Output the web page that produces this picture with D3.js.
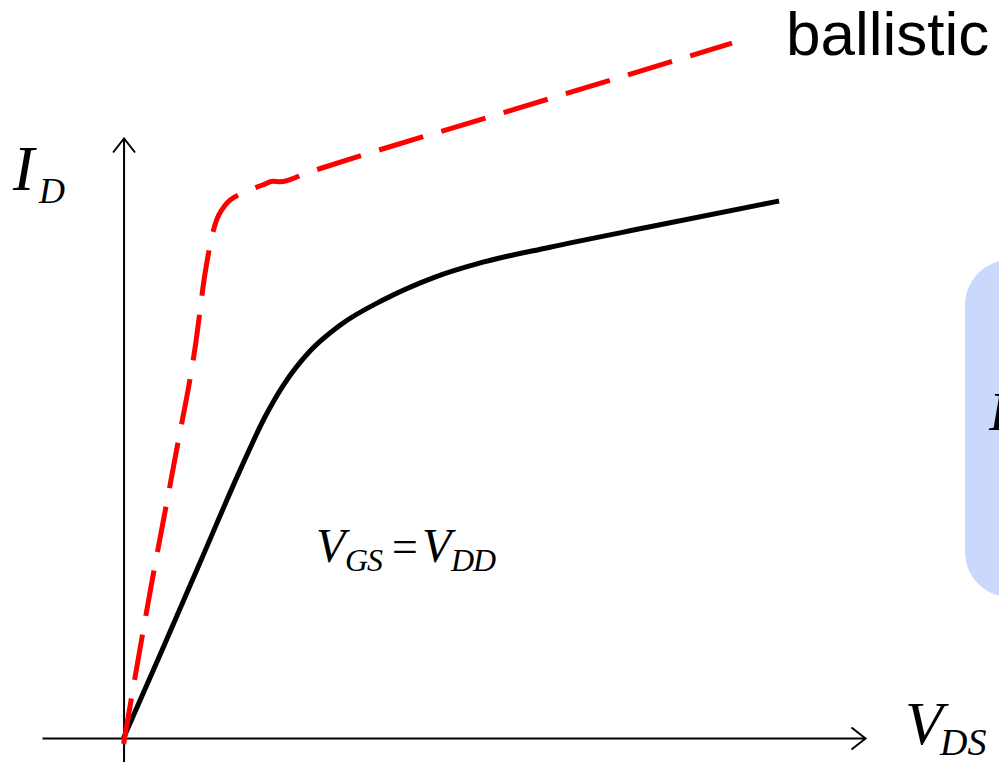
<!DOCTYPE html>
<html>
<head>
<meta charset="utf-8">
<script src="https://cdn.jsdelivr.net/npm/d3@7"></script>
<style>
  html, body { margin: 0; padding: 0; background: #fff; overflow: hidden; }
  svg { display: block; }
  .math { font-family: "Liberation Serif", "Times New Roman", serif; font-style: italic; fill: #000; }
</style>
</head>
<body>
<svg id="chart" width="999" height="762"></svg>
<script>
// Output characteristic, normalised drain voltage (V_DS) and drain current (I_D)
const ballisticVds = [0, 0.036, 0.070, 0.097, 0.110, 0.121, 0.137, 0.164, 0.188, 0.2016, 0.2111, 0.2475, 0.528, 0.8206];
const ballisticId  = [-0.010, 0.245, 0.470, 0.655, 0.775, 0.845, 0.888, 0.910, 0.922, 0.928, 0.927, 0.942, 1.048, 1.158];

const deviceVds = [0, 0.050, 0.103, 0.157, 0.1907, 0.2150, 0.2515, 0.2919, 0.3499, 0.4174, 0.4848, 0.5752, 0.7101, 0.8841];
const deviceId  = [0, 0.141, 0.292, 0.446, 0.535, 0.587, 0.645, 0.688, 0.730, 0.767, 0.793, 0.818, 0.852, 0.895];

const xDomain = [-0.11, 1.0];
const yDomain = [-0.04, 1.0];

const svg = d3.select("#chart");

const x = d3.scaleLinear().domain(xDomain).range([42, 865]);
const y = d3.scaleLinear().domain(yDomain).range([762, 138]);

// open chevron arrowheads for the axes
const defs = svg.append("defs");
defs.append("marker")
  .attr("id", "arrow")
  .attr("markerUnits", "userSpaceOnUse")
  .attr("viewBox", "-16 -12 18 24")
  .attr("refX", 0).attr("refY", 0)
  .attr("markerWidth", 18).attr("markerHeight", 24)
  .attr("orient", "auto")
  .append("path")
  .attr("d", "M-14,-11L0,0L-14,11")
  .attr("fill", "none")
  .attr("stroke", "#000")
  .attr("stroke-width", 2);

// side panel
svg.append("rect")
  .attr("x", 965).attr("y", 260)
  .attr("width", 120).attr("height", 337)
  .attr("rx", 45).attr("ry", 45)
  .attr("fill", "#cad8fb");
svg.append("text")
  .attr("class", "math")
  .attr("x", 989).attr("y", 430)
  .attr("font-size", 54)
  .text("I");

// axes without ticks
const xAxis = svg.append("g")
  .attr("transform", `translate(0,${y(0)})`)
  .call(d3.axisBottom(x).tickValues([]).tickSizeOuter(0));
const yAxis = svg.append("g")
  .attr("transform", `translate(${x(0)},0)`)
  .call(d3.axisLeft(y).tickValues([]).tickSizeOuter(0));
[xAxis, yAxis].forEach(g => g.select(".domain")
  .attr("stroke", "#000")
  .attr("stroke-width", 2)
  .attr("marker-end", "url(#arrow)"));

const line = d3.line()
  .x(d => x(d[0]))
  .y(d => y(d[1]))
  .curve(d3.curveMonotoneX);

// conventional device curve
svg.append("path")
  .datum(d3.zip(deviceVds, deviceId))
  .attr("d", line)
  .attr("fill", "none")
  .attr("stroke", "#000")
  .attr("stroke-width", 5);

// ballistic limit
svg.append("path")
  .datum(d3.zip(ballisticVds, ballisticId))
  .attr("d", line)
  .attr("fill", "none")
  .attr("stroke", "#ff0000")
  .attr("stroke-width", 5)
  .attr("stroke-dasharray", "46,19");

// axis labels
svg.append("text").attr("class", "math").attr("x", 13).attr("y", 190).attr("font-size", 64).text("I");
svg.append("text").attr("class", "math").attr("x", 39).attr("y", 203).attr("font-size", 36).text("D");

svg.append("text").attr("class", "math").attr("x", 905).attr("y", 744).attr("font-size", 62).text("V");
svg.append("text").attr("class", "math").attr("x", 940).attr("y", 755).attr("font-size", 38).text("DS");

// bias condition
svg.append("text").attr("class", "math").attr("x", 316).attr("y", 562).attr("font-size", 48).text("V");
svg.append("text").attr("class", "math").attr("x", 345).attr("y", 571).attr("font-size", 32).attr("letter-spacing", -1).text("GS");
svg.append("text").attr("class", "math").attr("x", 389).attr("y", 562).attr("font-size", 46).attr("font-style", "normal").text("=");
svg.append("text").attr("class", "math").attr("x", 422).attr("y", 562).attr("font-size", 48).text("V");
svg.append("text").attr("class", "math").attr("x", 451).attr("y", 571).attr("font-size", 32).attr("letter-spacing", -1).text("DD");

svg.append("text")
  .attr("x", 786).attr("y", 55)
  .attr("font-family", "'Liberation Sans', Arial, sans-serif")
  .attr("font-size", 62)
  .attr("fill", "#000")
  .text("ballistic");
</script>
</body>
</html>
